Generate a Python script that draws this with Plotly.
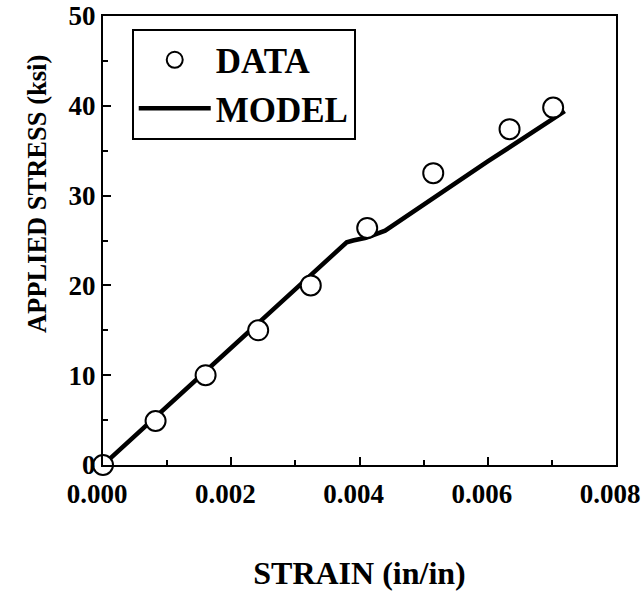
import plotly.graph_objects as go

strain_data = [0.0, 0.00082, 0.0016, 0.00242, 0.00324, 0.00412, 0.00515, 0.00634, 0.00702]
stress_data = [0.0, 4.9, 10.0, 15.0, 20.0, 26.4, 32.5, 37.4, 39.8]

strain_model = [0.0, 0.0037, 0.0038, 0.0039, 0.0041, 0.0044, 0.0060, 0.0072]
stress_model = [0.0, 24.2, 24.8, 25.0, 25.3, 26.1, 33.8, 39.4]

x_ticks = [0.0, 0.002, 0.004, 0.006, 0.008]
x_ticklabels = ["0.000", "0.002", "0.004", "0.006", "0.008"]
y_ticks = [0, 10, 20, 30, 40, 50]

font_family = "Liberation Serif"

fig = go.Figure()
fig.add_trace(go.Scatter(
    x=strain_model, y=stress_model, mode="lines", name="MODEL",
    line=dict(color="black", width=4.5), legendrank=2,
))
fig.add_trace(go.Scatter(
    x=strain_data, y=stress_data, mode="markers", name="DATA",
    marker=dict(symbol="circle", size=20, color="white",
                line=dict(color="black", width=2)),
    legendrank=1, cliponaxis=False,
))

axis_common = dict(
    showline=True, linecolor="black", linewidth=2, mirror=True,
    ticks="inside", tickcolor="black", ticklen=8, tickwidth=2,
    showgrid=False, zeroline=False, automargin=False,
    ticklabeloverflow="allow",
    tickfont=dict(family=font_family, size=27, color="black", weight="bold"),
    minor=dict(ticks="inside", ticklen=5, tickwidth=2, tickcolor="black"),
)

fig.update_xaxes(
    range=[0, 0.008], tickvals=x_ticks, ticktext=x_ticklabels,
    minor_dtick=0.001, ticklabelstandoff=4, ticklabelshift=-6,
    title=dict(text="STRAIN (in/in)", standoff=58,
               font=dict(family=font_family, size=32, color="black", weight="bold")),
    **axis_common,
)
fig.update_yaxes(
    range=[0, 50], tickvals=y_ticks, minor_dtick=5,
    **axis_common,
)

fig.add_annotation(
    text="APPLIED STRESS (ksi)", xref="paper", yref="paper",
    x=-0.13, y=0.604, xanchor="center", yanchor="middle",
    textangle=-90, showarrow=False,
    font=dict(family=font_family, size=26.5, color="black", weight="bold"),
)

fig.update_layout(
    width=644, height=591,
    margin=dict(l=103, r=28, t=16, b=126),
    paper_bgcolor="white", plot_bgcolor="white",
    showlegend=True,
    legend=dict(
        x=0.056, y=0.972, xanchor="left", yanchor="top",
        bordercolor="black", borderwidth=2, bgcolor="white",
        font=dict(family=font_family, size=35, color="black", weight="bold"),
        itemwidth=72, tracegroupgap=0,
    ),
)

fig.write_html("out.html")
